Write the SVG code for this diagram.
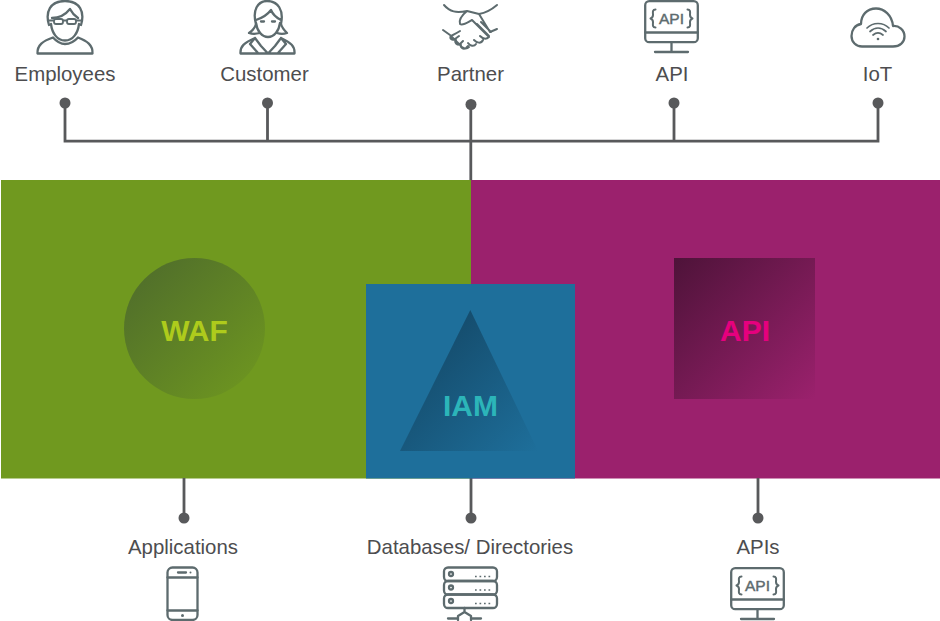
<svg xmlns="http://www.w3.org/2000/svg" width="940" height="621" viewBox="0 0 940 621">
<style>
.lbl{font-family:"Liberation Sans",Arial,sans-serif;font-size:20.400px;fill:#4d4d4f;text-anchor:middle}
.big{font-family:"Liberation Sans",Arial,sans-serif;font-size:30px;font-weight:bold;text-anchor:middle}
.ic{fill:none;stroke:#5d6b6e;stroke-width:2.300;stroke-linecap:round;stroke-linejoin:round}
.icf{fill:#5d6b6e;stroke:none}
.mono{font-family:"Liberation Sans",Arial,sans-serif;font-size:14px;fill:#5d6b6e;stroke:#5d6b6e;stroke-width:.4;text-anchor:middle}
.c{fill:none;stroke:#58595b;stroke-width:2.800}
.d{fill:#58595b}
</style>
<defs>
<linearGradient id="gw" x1="0" y1="0" x2="1" y2="1"><stop offset="0" stop-color="#4d6a2c"/><stop offset="1" stop-color="#70991f"/></linearGradient>
<linearGradient id="ga" x1="0" y1="0" x2="1" y2="1"><stop offset="0" stop-color="#4e1339"/><stop offset="1" stop-color="#9b216d"/></linearGradient>
<linearGradient id="gi" x1="0" y1="0" x2="1" y2="1"><stop offset="0" stop-color="#12425f"/><stop offset="1" stop-color="#1e6f9b"/></linearGradient>
<g id="apimon">
<rect x="1.200" y="1.200" width="52.600" height="41" rx="4" class="ic"/>
<path d="M1.200 32.500H53.800M27.500 42.200V51.500M11 52H44" class="ic"/>
<text x="27.500" y="24" class="mono" textLength="25" lengthAdjust="spacingAndGlyphs">API</text>
<path d="M11.500 9.500C8 9.500 9 12.500 9 15C9 17 8 18 6.500 18.500C8 19 9 20 9 22C9 24.500 8 27.500 11.500 27.500M43.500 9.500C47 9.500 46 12.500 46 15C46 17 47 18 48.500 18.500C47 19 46 20 46 22C46 24.500 47 27.500 43.500 27.500" class="ic" style="stroke-width:2"/>
</g>
</defs>
<g id="zones">
<rect id="zone-green" x="1" y="180" width="470" height="298.500" fill="#70991f"/>
<rect id="zone-purple" x="471" y="180" width="469" height="298.500" fill="#9b216d"/>
</g>
<g id="connectors">
<path class="c" d="M65 103V141.200H878V103M267.500 103V141.200M674 103V141.200M470.800 104V180"/>
<path class="c" d="M184 478V518M471 478V518M758 478V518"/>
<circle class="d" cx="65" cy="103" r="5.500"/><circle class="d" cx="267.500" cy="103" r="5.500"/><circle class="d" cx="471" cy="104.500" r="5.500"/><circle class="d" cx="674" cy="103" r="5.500"/><circle class="d" cx="878" cy="103" r="5.500"/>
<circle class="d" cx="184" cy="518" r="5.500"/><circle class="d" cx="471" cy="518" r="5.500"/><circle class="d" cx="758" cy="518" r="5.500"/>
</g>
<g id="waf"><circle cx="194.500" cy="328.500" r="70.500" fill="url(#gw)"/><text x="194.500" y="341" class="big" fill="#aecb1c">WAF</text></g>
<g id="api"><rect x="674" y="258" width="141" height="141" fill="url(#ga)"/><text x="745" y="341" class="big" fill="#e6007e">API</text></g>
<g id="iam"><rect x="366" y="284" width="209" height="194.500" fill="#1e6f9b"/><path d="M470.300 310L400 451H538Z" fill="url(#gi)"/><text x="470.500" y="416" class="big" fill="#2cb5b9">IAM</text></g>
<g id="employees">
<path class="ic" d="M49 25C45 12 50 1 65 1C80 1 85 12 81 25M52 18C59 18 66 14 70 9C72 13 75 16 78 18"/>
<path class="ic" d="M51 24C52 33 57 40.500 65 40.500C73 40.500 78 33 79 24"/>
<path class="ic" style="stroke-width:1.800" d="M48 20.500H54M63 20.500H67M76 20.500H82"/>
<rect class="ic" style="stroke-width:1.800" x="54" y="19" width="9" height="5" rx="2"/><rect class="ic" style="stroke-width:1.800" x="67" y="19" width="9" height="5" rx="2"/>
<path class="ic" d="M37.500 53.500C37 45 43 41 53 37.500C57 42 61 44 65 44C70 44 74 42 78 37.500C87 41 93 45 92.500 53.500Z"/>
<text class="lbl" x="65" y="81">Employees</text></g>
<g id="customer">
<path class="ic" d="M256 24C252 10 258 1 267 1C278 1 284 10 281 24C282 28 285 31 287 33C284 34 280 34 277 33M256 24C255 28 252 31 249 33C252 34 256 34 260 33M256 20C262 18 268 14 271 10C273 15 277 18 281 20"/>
<path class="ic" d="M256 23C257 31 262 37 268 37C274 37 279 31 280 23M261 21.500H264M272 21.500H275"/>
<path class="ic" d="M240.500 53.500C240 46 244 43 255 38L261 46L268 53.500L275 46L281 38C291 43 295 46 294.500 53.500ZM255 38L250 44L258 53M281 38L286 44L278 53"/>
<text class="lbl" x="264.500" y="81">Customer</text></g>
<g id="partner">
<path class="ic" style="stroke-width:2" d="M444 5C450 12 456 13 467 11L479 14C485 13 490 11 497 5M467 11C461 16 459 21 460 24C463 26 468 22 472 20L489 37M479 14L490 32L497 29M443 30L450 35M489 37C486 40 483 39 480 36M483 40C481 44 477 43 474 40M476 44C474 47 470 46 468 43M469 47C466 50 462 48 460 45L451 36M460 31C457 33 453 35 451 36C449 38 452 41 455 39L459 36M456 40C454 42 457 46 460 44L463 41M461 45C460 47 463 50 466 48L468 46M477 24L489 36M481 22L491 32"/>
<text class="lbl" x="470.500" y="81">Partner</text></g>
<g id="api-top"><use href="#apimon" x="644" y="0"/><text class="lbl" x="672" y="81">API</text></g>
<g id="iot">
<path class="ic" d="M862 46.500H893C900 46.500 904.500 42 904.500 36.500C904.500 30 899 25.500 893 26C892 15 884 8.500 876 8.500C867 8.500 861 15 861 24C855 25 851.500 30 851.500 36C851.500 42 856 46.500 862 46.500Z"/>
<path class="ic" style="stroke-width:1.700" d="M867 28C873 22 883 22 889 28M870 31.500C875 27 881 27 886 31.500M873 35C876 32.500 880 32.500 883 35"/>
<circle class="icf" cx="878" cy="39" r="1.300"/>
<text class="lbl" x="877.500" y="81">IoT</text></g>
<g id="applications">
<text class="lbl" x="183" y="554">Applications</text>
<rect class="ic" x="167.500" y="567.500" width="30" height="52.500" rx="5"/>
<path class="ic" d="M167.500 577.500H197.500M167.500 610.500H197.500M178 572.500H186"/>
<circle class="icf" cx="190.500" cy="572.500" r="1"/><circle class="icf" cx="182.500" cy="615.500" r="1.500"/></g>
<g id="databases">
<text class="lbl" x="470" y="554">Databases/ Directories</text>
<rect class="ic" x="444" y="567.500" width="53" height="13.500" rx="4"/>
<rect class="ic" x="444" y="581" width="53" height="13.500" rx="4"/>
<rect class="ic" x="444" y="594.500" width="53" height="13.500" rx="4"/>
<circle class="ic" cx="451" cy="574" r="2"/><circle class="ic" cx="451" cy="587.500" r="2"/><circle class="ic" cx="451" cy="601" r="2"/>
<path d="M475 576.500H492M475 590H492M475 603.500H492" style="fill:none;stroke:#5d6b6e;stroke-dasharray:1.700 2.800;stroke-width:1.700"/>
<path class="ic" d="M464.500 608V612M448 618.500H458M471 618.500H481M458 620V616L464.500 612L471 616V620"/></g>
<g id="apis"><text class="lbl" x="758" y="554">APIs</text><use href="#apimon" x="730" y="567"/></g>
</svg>
